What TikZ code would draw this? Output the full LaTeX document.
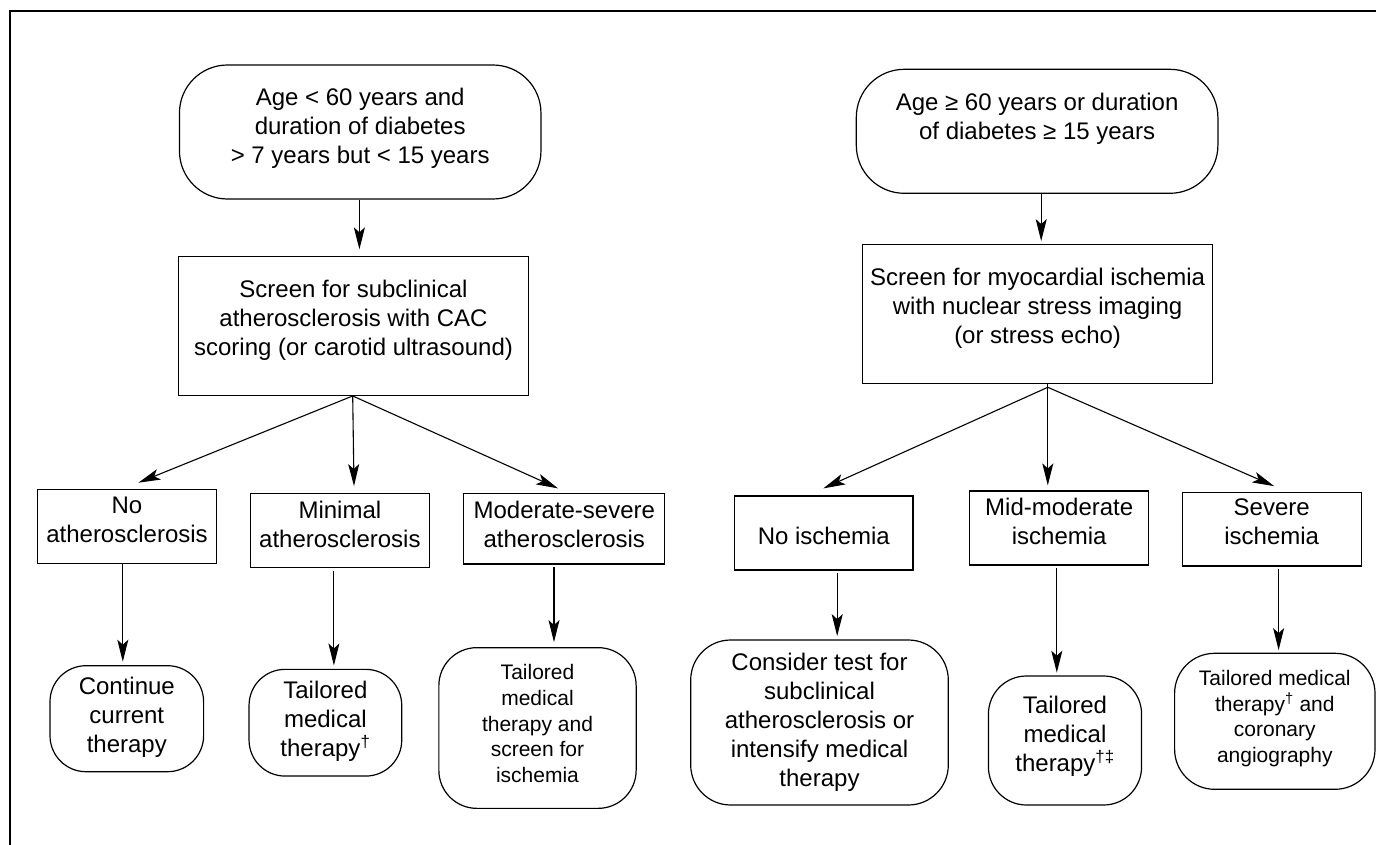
\documentclass[tikz,border=0pt]{standalone}
\usepackage{fontspec}
\setmainfont{Liberation Sans}
\usetikzlibrary{arrows.meta,calc}
\begin{document}
\begin{tikzpicture}[x=1pt,y=1pt,
  bx/.style={draw, line width=1.2pt, inner sep=0pt},
  big/.style={align=center, font=\fontsize{24}{29}\selectfont, inner sep=0pt},
  small/.style={align=center, font=\fontsize{21}{25.7}\selectfont, inner sep=0pt},
  arr/.style={-{Stealth[length=22pt,width=11pt,inset=5pt]}, line width=1.1pt}]
\useasboundingbox (0,0) rectangle (1376,-845);
% frame
\draw[line width=1.4pt] (1376,-11) -- (9.8,-11) -- (9.8,-845);

% ---------- left branch ----------
\node[bx, minimum width=361.5pt, minimum height=134pt, rounded corners=48pt] (A) at (360.2,-132) {};
\node[big] (At) at (360.2,-128) {Age < 60 years and\\duration of diabetes\\> 7 years but < 15 years};

\node[bx, minimum width=350pt, minimum height=138.7pt] (B) at (353.5,-326) {};
\node[big] (Bt) at (353.5,-320.5) {Screen for subclinical\\atherosclerosis with CAC\\scoring (or carotid ultrasound)};

\node[bx, minimum width=179pt, minimum height=74pt] (C1) at (127,-526.3) {};
\node[big] (C1t) at (127,-519.7) {No\\atherosclerosis};
\node[bx, minimum width=179pt, minimum height=73.7pt] (C2) at (339.9,-530.5) {};
\node[big] (C2t) at (339.9,-524) {Minimal\\atherosclerosis};
\node[bx, minimum width=201pt, minimum height=70.3pt] (C3) at (564.3,-528.8) {};
\node[big] (C3t) at (564.3,-524) {Moderate-severe\\atherosclerosis};

\node[bx, minimum width=153.6pt, minimum height=106pt, rounded corners=36pt] (D1) at (126.8,-718.7) {};
\node[big] (D1t) at (126.8,-717.5) {Continue\\current\\therapy};
\node[bx, minimum width=152.7pt, minimum height=106.7pt, rounded corners=36pt] (D2) at (325.4,-722.7) {};
\node[big] (D2t) at (325.4,-721) {Tailored\\medical\\therapy\textsuperscript{†}};
\node[bx, minimum width=197.3pt, minimum height=160.7pt, rounded corners=38pt] (D3) at (537.5,-728) {};
\node[small] (D3t) at (537.5,-723.7) {Tailored\\medical\\therapy and\\screen for\\ischemia};

% ---------- right branch ----------
\node[bx, minimum width=361.6pt, minimum height=124pt, rounded corners=48pt] (E) at (1037.1,-131.3) {};
\node[big] (Et) at (1037.1,-118.3) {Age ≥ 60 years or duration\\of diabetes ≥ 15 years};

\node[bx, minimum width=350pt, minimum height=139pt] (F) at (1037.6,-313.8) {};
\node[big] (Ft) at (1037.6,-308.4) {Screen for myocardial ischemia\\with nuclear stress imaging\\(or stress echo)};

\node[bx, minimum width=178.5pt, minimum height=74pt] (G1) at (823.8,-533) {};
\node[big] (G1t) at (823.8,-535.5) {No ischemia};
\node[bx, minimum width=179pt, minimum height=74pt] (G2) at (1059.2,-528) {};
\node[big] (G2t) at (1059.2,-521.3) {Mid-moderate\\ischemia};
\node[bx, minimum width=179pt, minimum height=73.7pt] (G3) at (1271.7,-529.2) {};
\node[big] (G3t) at (1271.7,-522.2) {Severe\\ischemia};

\node[bx, minimum width=257.6pt, minimum height=165pt, rounded corners=40pt] (H1) at (819.5,-722.5) {};
\node[big] (H1t) at (819.5,-722) {Consider test for\\subclinical\\atherosclerosis or\\intensify medical\\therapy};
\node[bx, minimum width=153.1pt, minimum height=129pt, rounded corners=38pt] (H2) at (1065,-740.5) {};
\node[big] (H2t) at (1065,-736.2) {Tailored\\medical\\therapy\textsuperscript{†‡}};
\node[bx, minimum width=200.4pt, minimum height=136pt, rounded corners=40pt] (H3) at (1274.8,-721.3) {};
\node[small] (H3t) at (1274.8,-718.7) {Tailored medical\\therapy\textsuperscript{†} and\\coronary\\angiography};

% ---------- connectors ----------
\draw[arr] ($(A.south)+(-0.8,0)$) -- ($(A.south |- B.north)+(-0.8,6.7)$);
\coordinate (bs) at ($(B.south)+(-0.8,0)$);
\draw[arr] (bs) -- ($(C1.north)+(11.4,6)$);
\draw[arr] (bs) -- ($(C2.north)+(14.1,7)$);
\draw[arr] (bs) -- ($(C3.north)+(-6.3,4.7)$);
\draw[arr] ($(C1.south)+(-4.2,0)$) -- ($(C1.south |- D1.north)+(-4.2,3.4)$);
\draw[arr] ($(C2.south)+(-6,-2.7)$) -- ($(C2.south |- D2.north)+(-6,3.3)$);
\draw[arr] ($(C3.south)+(-10.3,-2.7)$) -- ($(C3.south |- D3.north)+(-10.3,5)$);

\draw[arr] ($(E.south)+(4.1,0)$) -- ($(E.south |- F.north)+(4.1,2.6)$);
\coordinate (fs) at ($(F.south)+(10.2,-3.4)$);
\draw[line width=1.1pt] (F.south -| fs) -- (fs);
\draw[arr] (fs) -- ($(G1.north)+(-0.5,7)$);
\draw[arr] (fs) -- ($(G2.north)+(-11.4,5)$);
\draw[arr] (fs) -- ($(G3.north)+(2.5,5.6)$);
\draw[arr] ($(G1.south)+(13.4,-2.7)$) -- ($(G1.south |- H1.north)+(13.4,3.3)$);
\draw[arr] ($(G2.south)+(-2.4,-2.3)$) -- ($(G2.south |- H2.north)+(-2.4,2.7)$);
\draw[arr] ($(G3.south)+(6.9,-2.3)$) -- ($(G3.south |- H3.north)+(6.9,2.6)$);
\end{tikzpicture}
\end{document}
